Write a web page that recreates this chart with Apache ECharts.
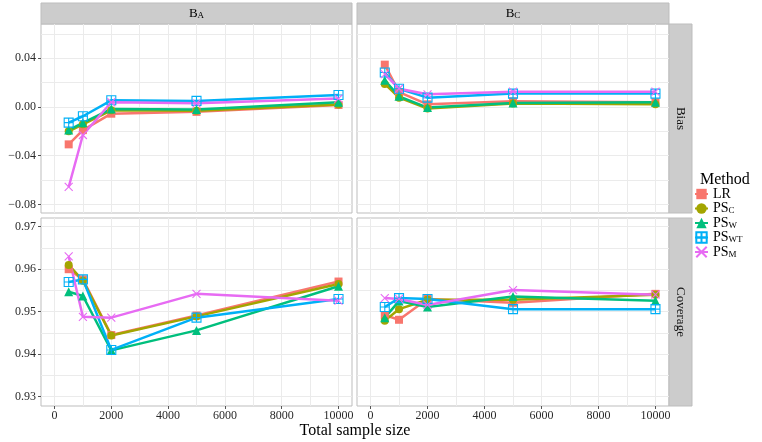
<!DOCTYPE html>
<html><head><meta charset="utf-8">
<script src="https://cdn.jsdelivr.net/npm/echarts@6/dist/echarts.min.js"></script>
<style>html,body{margin:0;padding:0;background:#fff}#c{width:762px;height:442px}</style>
</head><body><div id="c"></div>
<script>
// ---------------- data ----------------
const sampleSizes = [500, 1000, 2000, 5000, 10000];
const methods = ['LR', 'PS_C', 'PS_W', 'PS_WT', 'PS_M'];
const columnSubs = ['A', 'C'];            // strip labels B_A, B_C
const rowLabels = ['Bias', 'Coverage'];
const xTickLabels = [0, 2000, 4000, 6000, 8000, 10000];
const xGridValues = [0, 1000, 2000, 3000, 4000, 5000, 6000, 7000, 8000, 9000, 10000];
const biasTickLabels = [-0.08, -0.04, 0, 0.04];
const biasGridValues = [-0.08, -0.06, -0.04, -0.02, 0, 0.02, 0.04, 0.06];
const coverageTickLabels = [0.93, 0.94, 0.95, 0.96, 0.97];
const coverageGridValues = [0.93, 0.935, 0.94, 0.945, 0.95, 0.955, 0.96, 0.965, 0.97];

// Bias, B_A
const biasBA_LR    = [-0.0307, -0.0190, -0.0055, -0.0040, 0.0017];
const biasBA_PS_C  = [-0.0200, -0.0142, -0.0027, -0.0030, 0.0020];
const biasBA_PS_W  = [-0.0190, -0.0130, -0.0016, -0.0020, 0.0040];
const biasBA_PS_WT = [-0.0128, -0.0076, 0.0055, 0.0050, 0.0099];
const biasBA_PS_M  = [-0.0657, -0.0230, 0.0039, 0.0030, 0.0069];
// Bias, B_C
const biasBC_LR    = [0.0348, 0.0123, 0.0022, 0.0047, 0.0039];
const biasBC_PS_C  = [0.0190, 0.0077, -0.0013, 0.0028, 0.0022];
const biasBC_PS_W  = [0.0220, 0.0088, -0.0005, 0.0033, 0.0040];
const biasBC_PS_WT = [0.0283, 0.0150, 0.0077, 0.0110, 0.0110];
const biasBC_PS_M  = [0.0270, 0.0150, 0.0104, 0.0126, 0.0126];
// Coverage, B_A
const covBA_LR    = [0.9600, 0.9576, 0.9445, 0.9491, 0.9571];
const covBA_PS_C  = [0.9610, 0.9573, 0.9444, 0.9489, 0.9565];
const covBA_PS_W  = [0.9547, 0.9537, 0.9409, 0.9456, 0.9560];
const covBA_PS_WT = [0.9570, 0.9576, 0.9410, 0.9486, 0.9530];
const covBA_PS_M  = [0.9630, 0.9488, 0.9486, 0.9542, 0.9526];
// Coverage, B_C
const covBC_LR    = [0.9492, 0.9481, 0.9530, 0.9521, 0.9542];
const covBC_PS_C  = [0.9479, 0.9506, 0.9528, 0.9528, 0.9540];
const covBC_PS_W  = [0.9486, 0.9525, 0.9511, 0.9536, 0.9526];
const covBC_PS_WT = [0.9511, 0.9532, 0.9530, 0.9506, 0.9506];
const covBC_PS_M  = [0.9532, 0.9530, 0.9516, 0.9551, 0.9540];

// ---------------- styling ----------------
const FONT = '"Liberation Serif", "Times New Roman", serif';
const colors = ['#F8766D', '#A3A500', '#00BF7D', '#00B0F6', '#E76BF3'];
const symbols = ['rect', 'circle', 'triangle',
  'path://M0,0L10,0L10,10L0,10Z M5,0L5,10 M0,5L10,5',
  'path://M0,0L10,10 M10,0L0,10'];
const symbolSizes = [8, 8, 9, 9, 8];
const hollow = [false, false, false, true, true];

const panelValues = [
  [biasBA_LR, biasBA_PS_C, biasBA_PS_W, biasBA_PS_WT, biasBA_PS_M],
  [biasBC_LR, biasBC_PS_C, biasBC_PS_W, biasBC_PS_WT, biasBC_PS_M],
  [covBA_LR, covBA_PS_C, covBA_PS_W, covBA_PS_WT, covBA_PS_M],
  [covBC_LR, covBC_PS_C, covBC_PS_W, covBC_PS_WT, covBC_PS_M]
];

const grids = [
  { left: 41, top: 24, width: 311, height: 189 },
  { left: 357, top: 24, width: 312, height: 189 },
  { left: 41, top: 218, width: 311, height: 188 },
  { left: 357, top: 218, width: 312, height: 188 }
].map(g => Object.assign(g, { show: true, borderColor: '#BDBDBD', borderWidth: 1, backgroundColor: '#fff', containLabel: false }));

const X_MIN = -475, X_MAX = 10475;
const yRanges = [[-0.0871, 0.0682], [0.92781, 0.97205]];
const yGridSets = [biasGridValues, coverageGridValues];
const yTickSets = [biasTickLabels, coverageTickLabels];
const gridLine = { show: true, lineStyle: { color: '#EBEBEB', width: 1 } };
const labelStyle = { fontFamily: FONT, fontSize: 12, color: '#2a2a2a' };
const fmtY = v => (v < -1e-12 ? '\u2212' : '') + Math.abs(v).toFixed(2);
const fmtX = v => String(Math.round(v));

const xAxes = [], yAxes = [];
for (let g = 0; g < 4; g++) {
  const row = g < 2 ? 0 : 1;
  xAxes.push({ type: 'value', gridIndex: g, position: 'bottom', min: X_MIN, max: X_MAX,
    axisLine: { show: false, onZero: false }, axisTick: { show: false, customValues: xGridValues },
    axisLabel: { show: false }, splitLine: gridLine });
  yAxes.push({ type: 'value', gridIndex: g, position: 'left', min: yRanges[row][0], max: yRanges[row][1],
    axisLine: { show: false, onZero: false }, axisTick: { show: false, customValues: yGridSets[row] },
    axisLabel: { show: false }, splitLine: gridLine });
}
// label/tick axes
[2, 3].forEach(g => xAxes.push({ type: 'value', gridIndex: g, position: 'bottom', min: X_MIN, max: X_MAX,
  axisLine: { show: false, onZero: false },
  axisTick: { show: true, length: 3, customValues: xTickLabels, lineStyle: { color: '#555' } },
  axisLabel: Object.assign({ customValues: xTickLabels, margin: 4, formatter: fmtX }, labelStyle),
  splitLine: { show: false } }));
[0, 2].forEach(g => { const row = g < 2 ? 0 : 1; yAxes.push({ type: 'value', gridIndex: g, position: 'left',
  min: yRanges[row][0], max: yRanges[row][1],
  axisLine: { show: false, onZero: false },
  axisTick: { show: true, length: 3, customValues: yTickSets[row], lineStyle: { color: '#555' } },
  axisLabel: Object.assign({ customValues: yTickSets[row], margin: 5, formatter: fmtY }, labelStyle),
  splitLine: { show: false } }); });

const series = [];
for (let g = 0; g < 4; g++) {
  methods.forEach((m, k) => {
    const vals = panelValues[g][k];
    series.push({
      type: 'line', name: m, xAxisIndex: g, yAxisIndex: g,
      data: sampleSizes.map((x, i) => [x, vals[i]]),
      symbol: symbols[k], symbolSize: symbolSizes[k], showSymbol: true,
      lineStyle: { color: colors[k], width: 2.5 },
      itemStyle: hollow[k]
        ? { color: 'rgba(0,0,0,0)', borderColor: colors[k], borderWidth: 1.1 }
        : { color: colors[k], borderWidth: 0 },
      emphasis: { disabled: true }, animation: false
    });
  });
}

const strips = [];
const stripFill = '#CCCCCC', stripStroke = '#BDBDBD';
[0, 1].forEach(c => {
  const gr = grids[c];
  strips.push({ type: 'rect', shape: { x: gr.left, y: 3, width: gr.width, height: 21 },
    style: { fill: stripFill, stroke: stripStroke, lineWidth: 1 } });
  strips.push({ type: 'text', x: gr.left + gr.width / 2, y: 13.5,
    style: { text: '{b|B}{s|' + columnSubs[c] + '}', align: 'center', verticalAlign: 'middle',
      rich: { b: { fontFamily: FONT, fontSize: 13, color: '#111', lineHeight: 14, verticalAlign: 'middle' },
              s: { fontFamily: FONT, fontSize: 9, color: '#111', lineHeight: 7, verticalAlign: 'bottom' } } } });
});
[0, 1].forEach(r => {
  const gr = grids[r * 2 + 1];
  strips.push({ type: 'rect', shape: { x: gr.left + gr.width, y: gr.top, width: 23, height: gr.height },
    style: { fill: stripFill, stroke: stripStroke, lineWidth: 1 } });
  strips.push({ type: 'text', x: gr.left + gr.width + 11.5, y: gr.top + gr.height / 2, rotation: -Math.PI / 2,
    style: { text: rowLabels[r], align: 'center', verticalAlign: 'middle', fontFamily: FONT, fontSize: 13, fill: '#111' } });
});
strips.push({ type: 'text', x: 355, y: 431,
  style: { text: 'Total sample size', align: 'center', verticalAlign: 'middle', fontFamily: FONT, fontSize: 16, fill: '#000' } });
strips.push({ type: 'text', x: 700, y: 180,
  style: { text: 'Method', align: 'left', verticalAlign: 'middle', fontFamily: FONT, fontSize: 16, fill: '#000' } });

const chart = echarts.init(document.getElementById('c'), null, { renderer: 'canvas' });
chart.setOption({
  backgroundColor: '#fff',
  animation: false,
  grid: grids,
  xAxis: xAxes,
  yAxis: yAxes,
  series: series,
  legend: {
    data: methods, orient: 'vertical', left: 694, top: 187, padding: 0,
    itemWidth: 13, itemHeight: 13, itemGap: 0.5, selectedMode: false,
    formatter: n => n === 'LR' ? '{m|LR}' : '{m|PS}{s|' + n.split('_')[1] + '}',
    textStyle: { fontFamily: FONT, fontSize: 14, color: '#000',
      rich: { m: { fontFamily: FONT, fontSize: 14, color: '#000', lineHeight: 14, verticalAlign: 'middle' },
              s: { fontFamily: FONT, fontSize: 9, color: '#000', lineHeight: 7, verticalAlign: 'bottom' } } }
  },
  graphic: strips
});
</script></body></html>
